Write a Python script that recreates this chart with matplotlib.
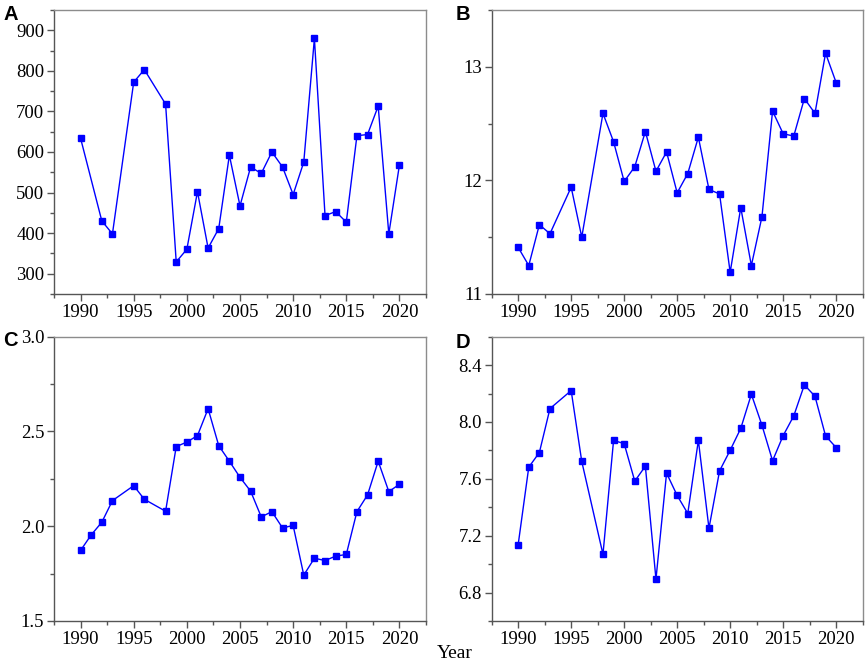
import matplotlib
matplotlib.use("Agg")
import matplotlib.pyplot as plt
from matplotlib.ticker import MultipleLocator

years_a = [1990, 1992, 1993, 1995, 1996, 1998, 1999, 2000, 2001, 2002, 2003, 2004, 2005,
           2006, 2007, 2008, 2009, 2010, 2011, 2012, 2013, 2014, 2015, 2016, 2017, 2018,
           2019, 2020]
values_a = [634, 430, 398, 772, 803, 718, 329, 360, 502, 363, 411, 592, 467,
            563, 547, 600, 563, 495, 575, 880, 443, 453, 427, 640, 643, 713,
            398, 568]

years_bcd = [1990, 1991, 1992, 1993, 1995, 1996, 1998, 1999, 2000, 2001, 2002, 2003, 2004,
             2005, 2006, 2007, 2008, 2009, 2010, 2011, 2012, 2013, 2014, 2015, 2016, 2017,
             2018, 2019, 2020]
values_b = [11.41, 11.25, 11.61, 11.53, 11.94, 11.50, 12.59, 12.34, 11.99, 12.12, 12.43, 12.08, 12.25,
            11.89, 12.06, 12.38, 11.92, 11.88, 11.19, 11.76, 11.25, 11.68, 12.61, 12.41, 12.39, 12.72,
            12.59, 13.12, 12.86]
values_c = [1.872, 1.954, 2.021, 2.135, 2.214, 2.142, 2.079, 2.420, 2.444, 2.478, 2.620, 2.425, 2.343,
            2.258, 2.185, 2.049, 2.077, 1.991, 2.004, 1.742, 1.831, 1.819, 1.842, 1.851, 2.077, 2.165,
            2.343, 2.183, 2.221]
values_d = [7.137, 7.682, 7.785, 8.094, 8.221, 7.722, 7.069, 7.870, 7.848, 7.584, 7.689, 6.894, 7.640,
            7.483, 7.356, 7.871, 7.252, 7.656, 7.801, 7.955, 8.195, 7.977, 7.727, 7.904, 8.043, 8.261,
            8.181, 7.902, 7.820]

panel_labels = ["A", "B", "C", "D"]
xticks = [1990, 1995, 2000, 2005, 2010, 2015, 2020]

fig = plt.figure(figsize=(8.65, 6.65), dpi=100)
serif = ["Liberation Serif", "DejaVu Serif"]

specs = [
    (years_a, values_a, [0.0624, 0.558, 0.4301, 0.427], (250, 950), 100, 50, "{:.0f}", (3, 5)),
    (years_bcd, values_b, [0.5684, 0.558, 0.4289, 0.427], (11, 13.5), 1, 0.5, "{:.0f}", (456, 5)),
    (years_bcd, values_c, [0.0624, 0.0662, 0.4301, 0.4275], (1.5, 3.0), 0.5, 0.25, "{:.1f}", (3, 331)),
    (years_bcd, values_d, [0.5684, 0.0662, 0.4289, 0.4275], (6.6, 8.6), 0.4, 0.2, "{:.1f}", (456, 333)),
]

W, H = 865.0, 665.0
for (xs, ys, rect, ylim, major, minor, fmt, lpos), lab in zip(specs, panel_labels):
    ax = fig.add_axes(rect)
    ax.plot(xs, ys, color="#0000ff", lw=1.0, marker="s", ms=4.6,
            markerfacecolor="#0000ff", markeredgecolor="#0000ff")
    ax.set_xlim(1987.5, 2022.5)
    ax.set_ylim(*ylim)
    ax.set_xticks(xticks)
    ax.xaxis.set_minor_locator(MultipleLocator(2.5))
    ax.yaxis.set_major_locator(MultipleLocator(major))
    ax.yaxis.set_minor_locator(MultipleLocator(minor))
    yt = [t for t in ax.get_yticks() if ylim[0] - 1e-9 <= t <= ylim[1] + 1e-9]
    ax.set_yticks(yt)
    ax.set_yticklabels([fmt.format(t) for t in yt])
    for sp in ax.spines.values():
        sp.set_color("#8c8c8c")
        sp.set_linewidth(1.0)
    ax.spines["left"].set_color("#555555")
    ax.spines["bottom"].set_color("#555555")
    ax.tick_params(which="both", direction="out", colors="#555555", top=False, right=False,
                   labelcolor="black")
    ax.tick_params(which="major", length=5, width=1.0, pad=2)
    ax.tick_params(which="minor", length=3, width=1.0)
    for t in ax.get_xticklabels() + ax.get_yticklabels():
        t.set_fontfamily(serif)
        t.set_fontsize(13.5)
    fig.text(lpos[0] / W, 1 - lpos[1] / H, lab, fontsize=14.5, fontweight="bold",
             family=["Liberation Sans", "DejaVu Sans"], va="top", ha="left")

fig.text(455 / W, 1 - 654 / H, "Year", fontsize=14, family=serif, ha="center", va="center")

fig.savefig("out.png", dpi=100)
